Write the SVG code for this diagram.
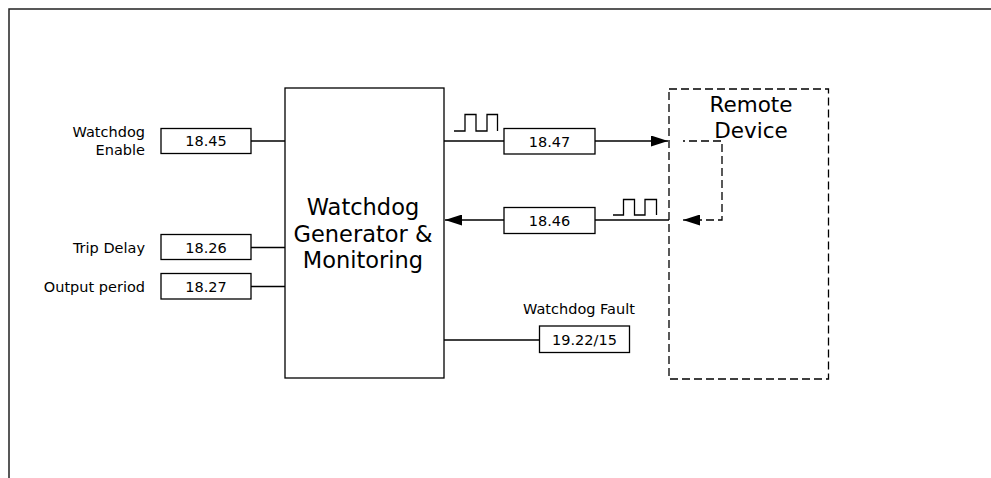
<svg xmlns="http://www.w3.org/2000/svg" width="991" height="478" viewBox="0 0 991 478">
<style>
.box{fill:#fff;stroke:#000;stroke-width:1.3}
.ln{fill:none;stroke:#000;stroke-width:1.3}
.dash{fill:none;stroke:#000;stroke-width:1.3;stroke-dasharray:8 4}
.t{font-family:"DejaVu Sans",Verdana,sans-serif;font-size:14.5px;fill:#000}
.big{font-family:"DejaVu Sans",Verdana,sans-serif;font-size:22.5px;fill:#000;text-anchor:middle}
.rd{font-family:"DejaVu Sans",Verdana,sans-serif;font-size:21.5px;fill:#000;text-anchor:middle}
.c{text-anchor:middle}
.r{text-anchor:end}
</style>
<defs>
<marker id="ah" markerWidth="17" markerHeight="11" refX="17" refY="5.5" orient="auto" markerUnits="userSpaceOnUse">
<path d="M0,0 L17,5.5 L0,11 Z" fill="#000"/>
</marker>
</defs>
<rect width="991" height="478" fill="#fff"/>
<path d="M9,478 V9 H991" fill="none" stroke="#222" stroke-width="1.5"/>

<g id="connectors">
<path class="ln" d="M251,141 H285"/>
<path class="ln" d="M251,247.5 H285"/>
<path class="ln" d="M251,286.5 H285"/>
<path class="ln" d="M444,141 H504"/>
<path class="ln" d="M595,141 H668" marker-end="url(#ah)"/>
<path class="ln" d="M669,220 H595"/>
<path class="ln" d="M504,220 H445" marker-end="url(#ah)"/>
<path class="ln" d="M444,340 H539"/>
<path class="dash" d="M683,141 H722 V220 H700" stroke-dashoffset="6"/>
<path class="ln" d="M700,220 H683" marker-end="url(#ah)"/>
<path class="ln" d="M454,131 H465 V114.5 H476 V131 H487 V114.5 H497.5 V131"/>
<path class="ln" d="M613,215 H623.5 V199.5 H634.5 V215 H645 V199.5 H656.5 V215"/>
</g>

<g id="n1845">
<rect class="box" x="161" y="128.5" width="90" height="25"/>
<text class="t c" x="206" y="146">18.45</text>
<text class="t r" x="145" y="137">Watchdog</text>
<text class="t r" x="145" y="155">Enable</text>
</g>
<g id="n1826">
<rect class="box" x="161" y="234.5" width="90" height="25"/>
<text class="t c" x="206" y="252.5">18.26</text>
<text class="t r" x="145" y="252.5">Trip Delay</text>
</g>
<g id="n1827">
<rect class="box" x="161" y="273.5" width="90" height="25.5"/>
<text class="t c" x="206" y="291.5">18.27</text>
<text class="t r" x="145" y="291.5">Output period</text>
</g>
<g id="main">
<rect class="box" x="285" y="88" width="159" height="290"/>
<text class="big" x="363" y="214.5">Watchdog</text>
<text class="big" x="363" y="241.5">Generator &amp;</text>
<text class="big" x="363" y="268">Monitoring</text>
</g>
<g id="n1847">
<rect class="box" x="504" y="128.5" width="91" height="25.5"/>
<text class="t c" x="549.5" y="146.5">18.47</text>
</g>
<g id="n1846">
<rect class="box" x="504" y="207.5" width="91" height="26"/>
<text class="t c" x="549.5" y="225.5">18.46</text>
</g>
<g id="fault">
<rect class="box" x="539.5" y="326" width="90" height="26.5"/>
<text class="t c" x="584.5" y="344.5">19.22/15</text>
<text class="t c" x="579" y="313.5">Watchdog Fault</text>
</g>
<g id="remote">
<rect class="dash" x="669" y="89" width="159.5" height="290" fill="none"/>
<text class="rd" x="751" y="111.5">Remote</text>
<text class="rd" x="751" y="137.5">Device</text>
</g>
</svg>
